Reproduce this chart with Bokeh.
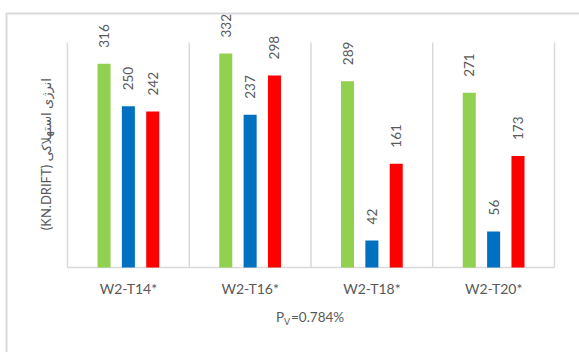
from math import pi

from bokeh.core.properties import value
from bokeh.embed import file_html
from bokeh.models import ColumnDataSource, Range1d
from bokeh.plotting import figure
from bokeh.resources import INLINE
from bokeh.transform import dodge

# Dissipated energy per specimen (kN.drift), pre-compression ratio 0.784 %
categories = ["W2-T14*", "W2-T16*", "W2-T18*", "W2-T20*"]
green_vals = [316, 332, 289, 271]
blue_vals = [250, 237, 42, 56]
red_vals = [242, 298, 161, 173]
y_title = "(KN.DRIFT)  انرژی استهلاکی"

GREY_TEXT = "#595959"
GRID = "#d9d9d9"
FONT = "Lato, 'DejaVu Sans'"

# page geometry in pixels: chart area border and plot box
W, H = 579, 352
OUT_L, OUT_T = 6, 13
PLOT_L, PLOT_R, PLOT_T, PLOT_B = 67, 554, 42, 267
Y_TOP = 349

n = len(categories)
px_x = (PLOT_R - PLOT_L) / n
px_y = (PLOT_B - PLOT_T) / Y_TOP

p = figure(width=W, height=H, output_backend="svg", toolbar_location=None,
           x_range=Range1d(-PLOT_L / px_x, (W - PLOT_L) / px_x),
           y_range=Range1d(-(H - PLOT_B) / px_y, PLOT_B / px_y),
           x_axis_location=None, y_axis_location=None, min_border=0)
p.outline_line_color = None
p.background_fill_color = "white"
p.border_fill_color = "white"
p.grid.visible = False

# chart-area border (top and left edges)
out_x = (OUT_L - PLOT_L) / px_x
out_y = (PLOT_B - OUT_T) / px_y
p.line(x=[out_x, out_x, p.x_range.end], y=[p.y_range.start, out_y, out_y],
       line_color=GRID, line_width=2)

# separators between categories and the category baseline
bounds = list(range(n + 1))
p.segment(x0=bounds, y0=[0] * (n + 1), x1=bounds, y1=[Y_TOP] * (n + 1),
          line_color=GRID, line_width=1.5)
p.segment(x0=[0], y0=[0], x1=[n], y1=[0], line_color=GRID, line_width=1.5)

centers = [i + 0.5 for i in range(n)]
src = ColumnDataSource(dict(x=centers, green=green_vals, blue=blue_vals, red=red_vals,
                            green_t=[str(v) for v in green_vals],
                            blue_t=[str(v) for v in blue_vals],
                            red_t=[str(v) for v in red_vals]))

series = [("green", "#92D050", -0.2), ("blue", "#0070C0", 0.0), ("red", "#FF0000", 0.2)]
for col, color, off in series:
    xs = dodge("x", off, range=p.x_range)
    p.vbar(x=xs, top=col, width=0.107, bottom=0, source=src,
           fill_color=color, line_color=None)
    p.text(x=xs, y=col, text=col + "_t", source=src, angle=pi / 2,
           text_align="left", text_baseline="middle", y_offset=-16,
           text_font=value(FONT), text_font_size="13.5px", text_color=GREY_TEXT)

# category names
p.text(x=centers, y=[0] * n, text=categories, y_offset=21,
       text_align="center", text_baseline="middle",
       text_font=value(FONT), text_font_size="14px", text_color=GREY_TEXT)

# y title
p.text(x=[(45 - PLOT_L) / px_x], y=[(PLOT_B - 152) / px_y], text=[y_title],
       angle=pi / 2, text_align="center", text_baseline="middle",
       text_font=value(FONT), text_font_size="13px", text_color=GREY_TEXT)

# x title with subscript V
mid = [n / 2]
p.text(x=mid, y=[0], text=["P"], x_offset=-27, y_offset=49,
       text_align="right", text_baseline="middle",
       text_font=value(FONT), text_font_size="13.5px", text_color=GREY_TEXT)
p.text(x=mid, y=[0], text=["V"], x_offset=-27, y_offset=54,
       text_align="left", text_baseline="middle",
       text_font=value(FONT), text_font_size="9px", text_color=GREY_TEXT)
p.text(x=mid, y=[0], text=["=0.784%"], x_offset=-20, y_offset=49,
       text_align="left", text_baseline="middle",
       text_font=value(FONT), text_font_size="13.5px", text_color=GREY_TEXT)

open("out.html", "w").write(file_html(p, INLINE))
